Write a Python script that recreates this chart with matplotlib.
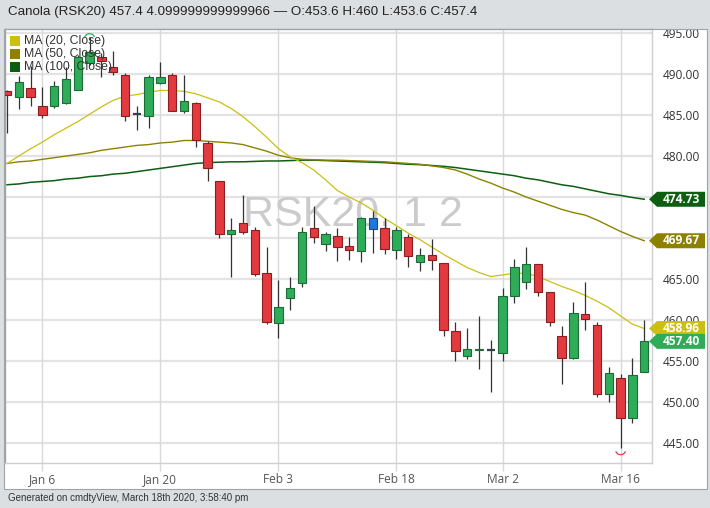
import matplotlib
matplotlib.use("Agg")
import matplotlib.pyplot as plt
import matplotlib.transforms as mtransforms
from matplotlib.patches import Rectangle, Polygon
from matplotlib.path import Path
import numpy as np

# ---------------- data ----------------
dates = ["2019-12-31", "2020-01-02", "2020-01-03", "2020-01-06", "2020-01-07", "2020-01-08",
         "2020-01-09", "2020-01-10", "2020-01-13", "2020-01-14", "2020-01-15", "2020-01-16",
         "2020-01-17", "2020-01-20", "2020-01-21", "2020-01-22", "2020-01-23", "2020-01-24",
         "2020-01-27", "2020-01-28", "2020-01-29", "2020-01-30", "2020-01-31", "2020-02-03",
         "2020-02-04", "2020-02-05", "2020-02-06", "2020-02-07", "2020-02-10", "2020-02-11",
         "2020-02-12", "2020-02-13", "2020-02-14", "2020-02-18", "2020-02-19", "2020-02-20",
         "2020-02-21", "2020-02-24", "2020-02-25", "2020-02-26", "2020-02-27", "2020-02-28",
         "2020-03-02", "2020-03-03", "2020-03-04", "2020-03-05", "2020-03-06", "2020-03-09",
         "2020-03-10", "2020-03-11", "2020-03-12", "2020-03-13", "2020-03-16", "2020-03-17",
         "2020-03-18"]

opens = [487.9, 487.25, 488.25, 486.1, 486.1, 486.45, 488.05, 491.3, 492.05, 490.85,
         489.9, 485.1, 484.9, 488.9, 489.9, 485.5, 486.5, 481.65, 476.95, 470.55,
         471.85, 470.95, 465.75, 459.65, 462.65, 464.55, 471.2, 469.25, 470.3, 469.0,
         468.45, 472.4, 471.25, 468.6, 470.1, 467.05, 467.95, 466.9, 458.65, 455.6,
         456.3, 456.3, 455.95, 462.95, 464.65, 466.8, 463.45, 458.05, 455.35, 460.7,
         459.4, 451.0, 452.9, 448.0, 453.6]
highs = [488.1, 489.8, 491.0, 488.45, 489.15, 490.9, 492.3, 494.5, 492.6, 492.85,
         490.1, 486.1, 489.9, 491.5, 490.1, 489.9, 486.6, 481.85, 476.95, 472.4,
         475.25, 471.3, 468.85, 464.9, 465.3, 471.4, 473.9, 470.75, 471.2, 470.1,
         472.6, 473.3, 472.4, 471.4, 470.55, 468.75, 469.85, 466.95, 459.8, 459.0,
         460.5, 457.55, 463.85, 467.5, 468.95, 466.8, 463.45, 459.25, 462.25, 464.65,
         459.8, 454.25, 453.4, 455.35, 460.0]
lows = [482.8, 485.7, 486.1, 484.65, 485.9, 486.4, 488.0, 491.1, 489.6, 489.9,
        484.25, 483.2, 483.4, 488.85, 485.5, 485.3, 481.05, 477.0, 469.95, 465.3,
        470.55, 465.4, 459.5, 457.75, 461.2, 464.05, 469.35, 468.4, 467.25, 467.3,
        467.05, 468.2, 468.05, 467.4, 466.5, 466.0, 466.1, 458.05, 455.05, 455.2,
        454.0, 451.25, 455.05, 462.05, 463.75, 462.95, 459.25, 452.2, 455.3, 458.8,
        450.55, 450.05, 444.35, 447.4, 453.6]
closes = [487.5, 489.0, 487.25, 485.0, 488.55, 489.35, 492.1, 492.7, 491.65, 490.2,
          484.9, 485.1, 489.6, 489.7, 485.5, 486.7, 481.95, 478.5, 470.55, 470.95,
          470.75, 465.6, 459.7, 461.55, 463.85, 470.75, 470.15, 470.55, 468.95, 468.55,
          472.5, 471.05, 468.65, 470.95, 467.85, 467.95, 467.3, 458.8, 456.2, 456.45,
          456.5, 456.3, 462.95, 466.5, 466.85, 463.45, 459.7, 455.35, 460.9, 460.1,
          451.0, 453.55, 448.0, 453.3, 457.4]
highlight_idx = [31]

ma20 = [479.1, 480.0, 480.9, 481.7, 482.6, 483.4, 484.2, 485.1, 486.0, 486.8,
        487.3, 487.5, 487.8, 488.0, 488.0, 487.9, 487.6, 487.1, 486.6, 485.8,
        484.8, 483.6, 482.3, 480.9, 479.9, 479.2, 478.3, 477.1, 475.8, 475.0,
        474.3, 473.4, 472.4, 471.5, 470.6, 469.8, 468.9, 468.0, 467.2, 466.4,
        465.8, 465.3, 465.5, 465.7, 465.7, 465.3, 464.7, 464.1, 463.6, 463.0,
        462.3, 461.5, 460.5, 459.5, 458.96]
ma50 = [479.1, 479.3, 479.4, 479.6, 479.8, 480.0, 480.2, 480.4, 480.7, 480.9,
        481.1, 481.3, 481.4, 481.6, 481.7, 481.9, 481.9, 481.8, 481.7, 481.6,
        481.4, 481.0, 480.6, 480.1, 479.8, 479.6, 479.55, 479.5, 479.5, 479.45,
        479.4, 479.35, 479.3, 479.2, 479.1, 479.0, 478.8, 478.6, 478.3, 477.8,
        477.2, 476.7, 476.1, 475.6, 475.0, 474.5, 474.0, 473.5, 473.1, 472.8,
        472.2, 471.5, 470.8, 470.2, 469.67]
ma100 = [476.5, 476.6, 476.8, 476.9, 477.0, 477.2, 477.3, 477.5, 477.6, 477.8,
         477.9, 478.1, 478.3, 478.5, 478.7, 478.9, 479.1, 479.2, 479.25, 479.3,
         479.3, 479.35, 479.4, 479.4, 479.45, 479.5, 479.5, 479.45, 479.4, 479.35,
         479.3, 479.25, 479.2, 479.1, 479.0, 478.95, 478.85, 478.75, 478.6, 478.4,
         478.2, 478.0, 477.8, 477.6, 477.3, 477.1, 476.8, 476.5, 476.3, 476.0,
         475.7, 475.4, 475.2, 474.95, 474.73]

tick_dates = ["2020-01-06", "2020-01-20", "2020-02-03", "2020-02-18", "2020-03-02", "2020-03-16"]
tick_labels = ["Jan 6", "Jan 20", "Feb 3", "Feb 18", "Mar 2", "Mar 16"]
y_ticks = [445, 450, 455, 460, 465, 470, 475, 480, 485, 490, 495]

legend_labels = ["MA (20, Close)", "MA (50, Close)", "MA (100, Close)"]
title_text = "Canola (RSK20) 457.4 4.099999999999966 \u2014 O:453.6 H:460 L:453.6 C:457.4"
footer_text = "Generated on cmdtyView, March 18th 2020, 3:58:40 pm"
watermark_text = "RSK20, 1 2"

# ---------------- styles ----------------
C_UP, C_UP_EDGE = "#2eac58", "#1d6b38"
C_DN, C_DN_EDGE = "#e23a3f", "#8a1f22"
C_HL, C_HL_EDGE = "#1f78e0", "#1a4a8a"
C_DOJI = "#36404c"
C_MA20, C_MA50, C_MA100 = "#cbbf12", "#8c8200", "#0e5e12"
C_LAST = "#2eac58"

W, H = 710, 508
def fx(px):
    return px / W
def fy(py):
    return 1 - py / H

fig = plt.figure(figsize=(W / 100, H / 100), dpi=100)
fig.patch.set_facecolor("#dcdfe2")

panel = Rectangle((fx(4), fy(489)), fx(707) - fx(4), fy(29) - fy(489),
                  transform=fig.transFigure, facecolor="white",
                  edgecolor="#a0a4a8", lw=0.8, zorder=-5)
fig.add_artist(panel)
panel_clip = mtransforms.TransformedBbox(
    mtransforms.Bbox([[fx(4), fy(489)], [fx(707), fy(29.5)]]), fig.transFigure)

L_PX, R_PX, T_PX, B_PX = 4.5, 652, 29, 463
ax = fig.add_axes([fx(L_PX), fy(B_PX), fx(R_PX) - fx(L_PX), fy(T_PX) - fy(B_PX)])
ax.set_facecolor("white")

n = len(dates)
x = np.arange(n)
ax.set_xlim(-0.21, 54.66)
ax.set_ylim(442.56, 495.5)

# grid
for yv in y_ticks:
    ax.axhline(yv, color="#e3e3e3", lw=1.6, zorder=0)
tick_pos = [dates.index(d) for d in tick_dates]
for xv in tick_pos:
    ax.axvline(xv, color="#d9d9d9", lw=1.0, zorder=0)

# watermark
ax.text(0.538, 0.548, watermark_text, transform=ax.transAxes, ha="center", va="baseline",
        fontsize=31, color="#cbcbcb", family="Liberation Sans", zorder=0.5)

# moving averages
ax.plot(x, ma100, color=C_MA100, lw=1.1, zorder=2)
ax.plot(x, ma50, color=C_MA50, lw=1.0, zorder=2)
ax.plot(x, ma20, color=C_MA20, lw=0.9, zorder=2)

# candles
bw = 0.72
for i in range(n):
    o, h, l, c = opens[i], highs[i], lows[i], closes[i]
    ax.vlines(i, l, h, color="#333333", lw=0.9, zorder=3)
    if abs(c - o) < 0.05:
        ax.hlines(o, i - bw / 2, i + bw / 2, color=C_DOJI, lw=1.6, zorder=4)
        continue
    if i in highlight_idx:
        fc, ec = C_HL, C_HL_EDGE
    elif c > o:
        fc, ec = C_UP, C_UP_EDGE
    else:
        fc, ec = C_DN, C_DN_EDGE
    ax.bar(i, c - o, bottom=o, width=bw, color=fc, edgecolor=ec, lw=0.8, zorder=4)

# high / low markers
hi_i = int(np.argmax(highs))
lo_i = int(np.argmin(lows))
upper_arc = Path.arc(20, 160)
lower_arc = Path.arc(200, 340)
ax.scatter([hi_i], [highs[hi_i] - 0.2], marker=upper_arc, s=55, facecolors="none",
           edgecolors="#2eac58", linewidths=0.9, zorder=5, clip_on=False)
ax.scatter([lo_i], [lows[lo_i] - 0.15], marker=lower_arc, s=55, facecolors="none",
           edgecolors="#e23a3f", linewidths=0.9, zorder=5, clip_on=False)

# axes styling
for s in ax.spines.values():
    s.set_color("#cfcfcf")
    s.set_linewidth(1.0)
ax.spines["left"].set_color("#a0a4a8")
ax.spines["top"].set_color("#a0a4a8")

ax.yaxis.tick_right()
ax.set_yticks(y_ticks)
ax.set_yticklabels([f"{v:.2f}" for v in y_ticks])
ax.tick_params(axis="y", length=0, pad=8, labelsize=8.6, labelcolor="#333333")
ax.set_xticks(tick_pos)
ax.set_xticklabels(tick_labels)
ax.tick_params(axis="x", length=6, width=1, color="#d9d9d9", pad=1, labelsize=8.6,
               labelcolor="#555555")
for lab in ax.get_xticklabels() + ax.get_yticklabels():
    lab.set_family("Open Sans")
    lab.set_clip_on(True)
    lab.set_clip_box(panel_clip)

# price tags on right
trans = mtransforms.blended_transform_factory(ax.transAxes, ax.transData)
axw = R_PX - L_PX
units_per_px = (495.5 - 442.56) / (B_PX - T_PX)
hh = 7.5 * units_per_px
def xf(px):
    return (px - L_PX) / axw

def tag(val, color):
    pts = [(xf(649), val), (xf(657), val + hh), (xf(705), val + hh),
           (xf(705), val - hh), (xf(657), val - hh)]
    ax.add_patch(Polygon(pts, closed=True, transform=trans, facecolor=color,
                         edgecolor="none", clip_on=False, zorder=6))
    ax.text(xf(681), val, f"{val:.2f}", transform=trans, ha="center", va="center",
            color="white", fontsize=8.6, fontweight="bold", family="Open Sans",
            clip_on=False, zorder=6)

tag(ma100[-1], C_MA100)
tag(ma50[-1], C_MA50)
tag(ma20[-1], C_MA20)
tag(closes[-1], C_LAST)

# legend (figure level)
leg_colors = [C_MA20, C_MA50, C_MA100]
for k, (lab, col) in enumerate(zip(legend_labels, leg_colors)):
    yc = 41 + 13 * k
    fig.add_artist(Rectangle((fx(10), fy(yc + 5)), fx(10), 10 / H, transform=fig.transFigure,
                             facecolor=col, edgecolor="none", zorder=10))
    fig.text(fx(24), fy(yc), lab, fontsize=8.8, family="Liberation Sans", color="#333333",
             va="center", ha="left", zorder=11)

# title & footer
fig.text(fx(8), fy(11.5), title_text, fontsize=9.6, family="Liberation Sans",
         color="#222222", va="center", ha="left")
fig.text(fx(8), fy(498), footer_text, fontsize=7, family="Liberation Sans",
         color="#333333", va="center", ha="left")

fig.savefig("out.png", dpi=100, facecolor=fig.get_facecolor())
